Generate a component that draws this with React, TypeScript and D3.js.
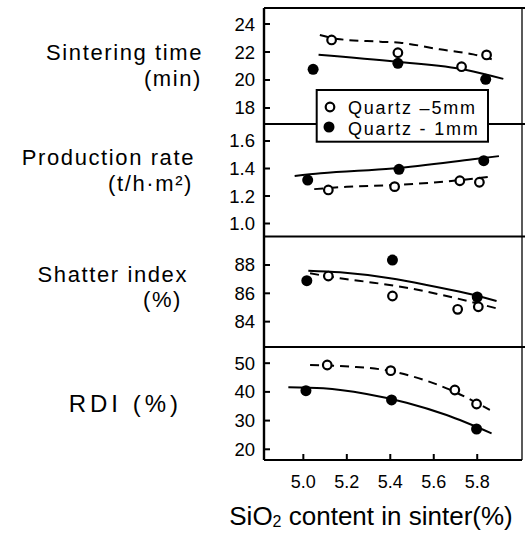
import React from 'react';
import * as d3 from 'd3';

// ---------- data ----------
const xTicks = [5.0, 5.2, 5.4, 5.6, 5.8];
const xTickLabels = ['5.0', '5.2', '5.4', '5.6', '5.8'];
const legendNames = ['Quartz \u20135mm', 'Quartz - 1mm'];

// Sintering time (min)
const stTicks = [18, 20, 22, 24];
const stOpenX = [5.13, 5.435, 5.728, 5.843];
const stOpenY = [22.86, 21.95, 20.95, 21.79];
const stFilledX = [5.045, 5.435, 5.839];
const stFilledY = [20.76, 21.19, 20.05];
const stOpenFitX = [5.076, 5.169, 5.353, 5.445, 5.628, 5.782, 5.889];
const stOpenFitY = [23.21, 22.91, 22.74, 22.66, 22.19, 21.83, 21.38];
const stFilledFitX = [5.07, 5.43, 5.75, 5.92];
const stFilledFitY = [21.8, 21.3, 20.72, 20.08];

// Production rate (t/h·m²)
const prTicks = [1.0, 1.2, 1.4, 1.6];
const prOpenX = [5.115, 5.42, 5.72, 5.81];
const prOpenY = [1.244, 1.268, 1.311, 1.3];
const prFilledX = [5.02, 5.44, 5.83];
const prFilledY = [1.316, 1.394, 1.457];
const prOpenFitX = [5.05, 5.2, 5.43, 5.65, 5.86];
const prOpenFitY = [1.25, 1.267, 1.28, 1.305, 1.34];
const prFilledFitX = [4.96, 5.08, 5.41, 5.78, 5.9];
const prFilledFitY = [1.345, 1.365, 1.4, 1.467, 1.49];

// Shatter index (%)
const siTicks = [84, 86, 88];
const siOpenX = [5.115, 5.41, 5.71, 5.805];
const siOpenY = [87.22, 85.81, 84.87, 85.05];
const siFilledX = [5.016, 5.41, 5.8];
const siFilledY = [86.89, 88.35, 85.74];
const siOpenFitX = [5.031, 5.169, 5.322, 5.475, 5.659, 5.889];
const siOpenFitY = [87.41, 87.06, 86.75, 86.4, 85.81, 84.94];
const siFilledFitX = [5.023, 5.169, 5.399, 5.567, 5.751, 5.889];
const siFilledFitY = [87.6, 87.48, 87.06, 86.59, 86.0, 85.46];

// RDI (%)
const rdTicks = [20, 30, 40, 50];
const rdOpenX = [5.11, 5.402, 5.697, 5.797];
const rdOpenY = [49.37, 47.39, 40.66, 35.78];
const rdFilledX = [5.012, 5.406, 5.797];
const rdFilledY = [40.42, 37.18, 27.07];
const rdOpenFitX = [5.031, 5.215, 5.353, 5.506, 5.659, 5.858];
const rdOpenFitY = [49.37, 48.78, 47.87, 45.3, 41.25, 33.69];
const rdFilledFitX = [4.931, 5.092, 5.291, 5.475, 5.659, 5.866];
const rdFilledFitY = [41.6, 41.25, 39.27, 36.24, 31.95, 25.57];

// ---------- layout ----------
const W = 525;
const H = 543;
const left = 264;
const right = 522;
const top = 8;
const bottom = 460;
const FONT = "'Liberation Sans', Arial, sans-serif";

const x = d3.scaleLinear().domain([4.819, 6.006]).range([left, right]);

const zip = (a: number[], b: number[]) => a.map((v, i) => [v, b[i]] as [number, number]);

const panels = [
  {
    domain: [16.857, 25.143], range: [124, 8], ticks: stTicks, fmt: (v: number) => String(v),
    open: zip(stOpenX, stOpenY), filled: zip(stFilledX, stFilledY),
    openFit: zip(stOpenFitX, stOpenFitY), filledFit: zip(stFilledFitX, stFilledFitY),
  },
  {
    domain: [0.9055, 1.7236], range: [236.5, 124], ticks: prTicks, fmt: (v: number) => v.toFixed(1),
    open: zip(prOpenX, prOpenY), filled: zip(prFilledX, prFilledY),
    openFit: zip(prOpenFitX, prOpenFitY), filledFit: zip(prFilledFitX, prFilledFitY),
  },
  {
    domain: [82.21, 90.01], range: [347, 236.5], ticks: siTicks, fmt: (v: number) => String(v),
    open: zip(siOpenX, siOpenY), filled: zip(siFilledX, siFilledY),
    openFit: zip(siOpenFitX, siOpenFitY), filledFit: zip(siFilledFitX, siFilledFitY),
  },
  {
    domain: [16.27, 55.64], range: [460, 347], ticks: rdTicks, fmt: (v: number) => String(v),
    open: zip(rdOpenX, rdOpenY), filled: zip(rdFilledX, rdFilledY),
    openFit: zip(rdOpenFitX, rdOpenFitY), filledFit: zip(rdFilledFitX, rdFilledFitY),
  },
];

const LBL = 22;
const LS = 1.6;

export default function App() {
  return (
    <svg width={W} height={H} style={{ position: 'absolute', left: 0, top: 0, background: '#fff' }}
      fontFamily={FONT}>
      <rect x={0} y={0} width={W} height={H} fill="#fff" />
      {/* frame */}
      <line x1={left} y1={top} x2={right + 3} y2={top} stroke="#000" strokeWidth={2.2} />
      <line x1={left} y1={top} x2={left} y2={bottom} stroke="#000" strokeWidth={2.4} />
      <line x1={left} y1={bottom} x2={right} y2={bottom} stroke="#000" strokeWidth={2.2} />
      <line x1={right} y1={top} x2={right} y2={bottom} stroke="#000" strokeWidth={1.3} />
      {panels.slice(0, 3).map((p, i) => (
        <line key={'div' + i} x1={left} x2={W} y1={p.range[0]} y2={p.range[0]} stroke="#000" strokeWidth={2} />
      ))}

      {panels.map((p, pi) => {
        const y = d3.scaleLinear().domain(p.domain).range(p.range);
        const line = d3.line<[number, number]>().x(d => x(d[0])).y(d => y(d[1])).curve(d3.curveMonotoneX);
        return (
          <g key={'p' + pi}>
            {p.ticks.map((t) => (
              <g key={t}>
                <line x1={left} x2={left + 6} y1={y(t)} y2={y(t)} stroke="#000" strokeWidth={2} />
                <text x={255} y={y(t) + 6.5} textAnchor="end" fontSize={18.5} fill="#000">{p.fmt(t)}</text>
              </g>
            ))}
            <path d={line(p.openFit) || ''} fill="none" stroke="#000" strokeWidth={2} strokeDasharray="9 6" />
            <path d={line(p.filledFit) || ''} fill="none" stroke="#000" strokeWidth={2} />
            {p.open.map((d, i) => (
              <circle key={'o' + i} cx={x(d[0])} cy={y(d[1])} r={4.3} fill="#fff" stroke="#000" strokeWidth={2.2} />
            ))}
            {p.filled.map((d, i) => (
              <circle key={'f' + i} cx={x(d[0])} cy={y(d[1])} r={5.5} fill="#000" />
            ))}
          </g>
        );
      })}

      {/* x ticks */}
      {xTicks.map((t, i) => (
        <g key={'xt' + i}>
          <line x1={x(t)} x2={x(t)} y1={bottom} y2={bottom - 6} stroke="#000" strokeWidth={2} />
          <text x={x(t)} y={488} textAnchor="middle" fontSize={18} fill="#000">{xTickLabels[i]}</text>
        </g>
      ))}
      <text x={371} y={525} textAnchor="middle" fontSize={26} fill="#000">
        SiO<tspan fontSize={16} dy={2}>2</tspan><tspan dy={-2}> content in sinter(%)</tspan>
      </text>

      {/* left labels */}
      <text x={203} y={60} textAnchor="end" fontSize={LBL} letterSpacing={LS} fill="#000">Sintering time</text>
      <text x={202} y={86} textAnchor="end" fontSize={LBL} letterSpacing={LS} fill="#000">(min)</text>
      <text x={195} y={165} textAnchor="end" fontSize={LBL} letterSpacing={LS} fill="#000">Production rate</text>
      <text x={193} y={191} textAnchor="end" fontSize={LBL} letterSpacing={LS} fill="#000">(t/h·m²)</text>
      <text x={188} y={282} textAnchor="end" fontSize={LBL} letterSpacing={LS} fill="#000">Shatter index</text>
      <text x={182} y={307} textAnchor="end" fontSize={LBL} letterSpacing={LS} fill="#000">(%)</text>
      <text x={182} y={411.5} textAnchor="end" fontSize={24} fill="#000" letterSpacing={4}>RDI (%)</text>

      {/* legend */}
      <rect x={316.7} y={90} width={171.3} height={51.7} fill="#fff" stroke="#000" strokeWidth={2} />
      <circle cx={330} cy={107} r={4.3} fill="#fff" stroke="#000" strokeWidth={2.2} />
      <circle cx={329} cy={127} r={5.5} fill="#000" />
      <text x={348} y={113.5} fontSize={18} letterSpacing={1.8} fill="#000">{legendNames[0]}</text>
      <text x={348} y={134.5} fontSize={18} letterSpacing={1.8} fill="#000">{legendNames[1]}</text>
    </svg>
  );
}
